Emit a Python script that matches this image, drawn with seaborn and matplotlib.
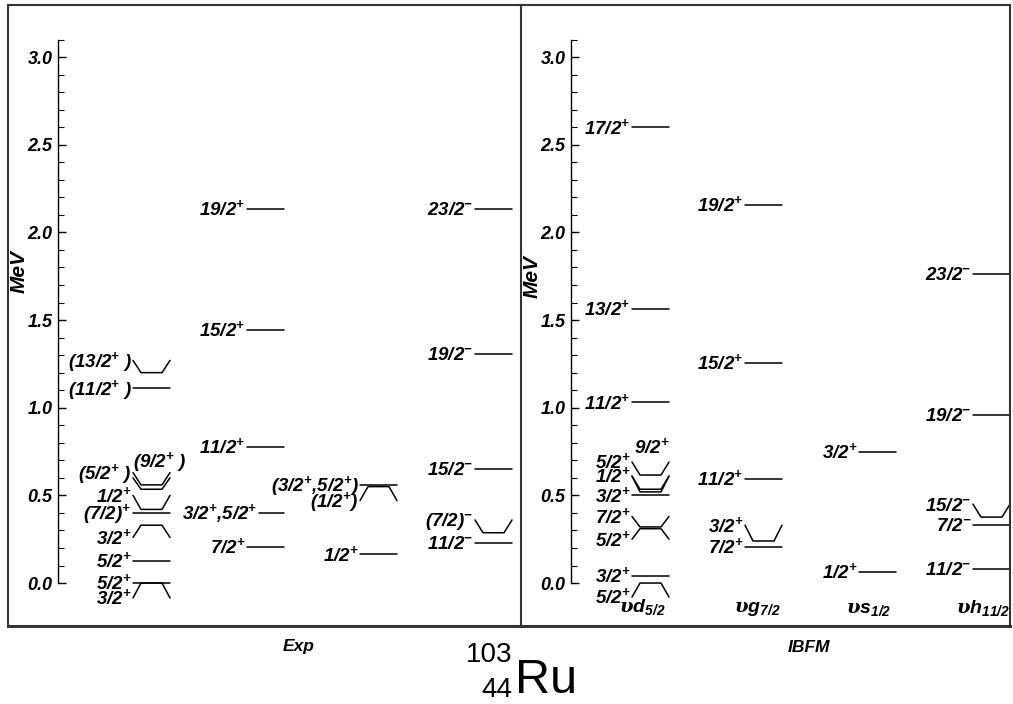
import numpy as np
import pandas as pd
import matplotlib
matplotlib.use("Agg")
import matplotlib.pyplot as plt
import seaborn as sns
from matplotlib.ticker import FixedLocator, FormatStrFormatter
from matplotlib.lines import Line2D

# ------------------------------------------------------------------ data
# Experimental levels (MeV); *_Elab = energy where the label / connector end sits
exp_c1_lab = ["3/2$^{+}$", "5/2$^{+}$", "5/2$^{+}$", "3/2$^{+}$", "(7/2)$^{+}$",
              "1/2$^{+}$", "(9/2$^{+}$ )", "(5/2$^{+}$ )", "(11/2$^{+}$ )", "(13/2$^{+}$ )"]
exp_c1_E = [0.0, 0.0, 0.127, 0.33, 0.40, 0.42, 0.535, 0.56, 1.11, 1.20]
exp_c1_Elab = [-0.085, 0.0, 0.127, 0.26, 0.40, 0.50, 0.60, 0.63, 1.11, 1.27]

exp_c2_lab = ["7/2$^{+}$", "3/2$^{+}$,5/2$^{+}$", "11/2$^{+}$", "15/2$^{+}$", "19/2$^{+}$"]
exp_c2_E = [0.207, 0.40, 0.776, 1.443, 2.133]
exp_c2_Elab = [0.207, 0.40, 0.776, 1.443, 2.133]

exp_c3_lab = ["1/2$^{+}$", "(1/2$^{+}$)", "(3/2$^{+}$,5/2$^{+}$)"]
exp_c3_E = [0.165, 0.55, 0.56]
exp_c3_Elab = [0.165, 0.47, 0.56]

exp_c4_lab = ["11/2$^{-}$", "(7/2)$^{-}$", "15/2$^{-}$", "19/2$^{-}$", "23/2$^{-}$"]
exp_c4_E = [0.228, 0.287, 0.65, 1.306, 2.133]
exp_c4_Elab = [0.228, 0.36, 0.65, 1.306, 2.133]

# IBFM levels
ibfm_c1_lab = ["5/2$^{+}$", "3/2$^{+}$", "5/2$^{+}$", "7/2$^{+}$", "3/2$^{+}$", "9/2$^{+}$",
               "1/2$^{+}$", "5/2$^{+}$", "11/2$^{+}$", "13/2$^{+}$", "17/2$^{+}$"]
ibfm_c1_E = [0.0, 0.04, 0.31, 0.32, 0.50, 0.52, 0.535, 0.616, 1.03, 1.563, 2.60]
ibfm_c1_Elab = [-0.08, 0.04, 0.25, 0.38, 0.50, 0.61, 0.61, 0.69, 1.03, 1.563, 2.60]

ibfm_c2_lab = ["7/2$^{+}$", "3/2$^{+}$", "11/2$^{+}$", "15/2$^{+}$", "19/2$^{+}$"]
ibfm_c2_E = [0.207, 0.24, 0.595, 1.255, 2.156]
ibfm_c2_Elab = [0.207, 0.33, 0.595, 1.255, 2.156]

ibfm_c3_lab = ["1/2$^{+}$", "3/2$^{+}$"]
ibfm_c3_E = [0.065, 0.75]
ibfm_c3_Elab = [0.065, 0.75]

ibfm_c4_lab = ["11/2$^{-}$", "7/2$^{-}$", "15/2$^{-}$", "19/2$^{-}$", "23/2$^{-}$"]
ibfm_c4_E = [0.08, 0.331, 0.376, 0.958, 1.763]
ibfm_c4_Elab = [0.08, 0.331, 0.45, 0.958, 1.763]

shell_labels = [r"$\upsilon\mathbf{d}_{\mathbf{5/2}}$", r"$\upsilon\mathbf{g}_{\mathbf{7/2}}$",
                r"$\upsilon\mathbf{s}_{\mathbf{1/2}}$", r"$\upsilon\mathbf{h}_{\mathbf{11/2}}$"]

major_ticks = [0.0, 0.5, 1.0, 1.5, 2.0, 2.5, 3.0]
minor_ticks = [round(0.1 * i, 1) for i in range(32)]
axis_top = 3.1

# ------------------------------------------------------------------ layout
W, H = 1013, 704
YLIM = (-0.245, 3.297)
LEVEL_W = 37      # px
DIAG = 8          # px

sns.set_theme(style="white")
plt.rcParams["font.family"] = ["Liberation Sans", "DejaVu Sans"]
plt.rcParams["font.style"] = "italic"
plt.rcParams["font.weight"] = "bold"
plt.rcParams["text.color"] = "black"
plt.rcParams["axes.labelcolor"] = "black"
plt.rcParams["mathtext.fontset"] = "custom"
plt.rcParams["mathtext.rm"] = "Liberation Sans:bold:italic"
plt.rcParams["mathtext.bf"] = "Liberation Sans:bold:italic"
plt.rcParams["mathtext.it"] = "DejaVu Serif"
plt.rcParams["mathtext.sf"] = "Liberation Sans:bold:italic"

fig = plt.figure(figsize=(W / 100, H / 100), dpi=100)

panels = {
    "exp": dict(box=(8, 521), spine_x=58,
                cols=[(133, exp_c1_lab, exp_c1_E, exp_c1_Elab),
                      (247, exp_c2_lab, exp_c2_E, exp_c2_Elab),
                      (360, exp_c3_lab, exp_c3_E, exp_c3_Elab),
                      (475, exp_c4_lab, exp_c4_E, exp_c4_Elab)],
                mev=(19, 272)),
    "ibfm": dict(box=(521, 1010), spine_x=571,
                 cols=[(632, ibfm_c1_lab, ibfm_c1_E, ibfm_c1_Elab),
                       (745, ibfm_c2_lab, ibfm_c2_E, ibfm_c2_Elab),
                       (859, ibfm_c3_lab, ibfm_c3_E, ibfm_c3_Elab),
                       (973, ibfm_c4_lab, ibfm_c4_E, ibfm_c4_Elab)],
                 mev=(532, 277)),
}
# label placement exceptions (layout only): (panel, col, idx) -> (x px, y MeV)
label_override = {("exp", 0, 6): (160, 0.70), ("ibfm", 0, 5): (652, 0.78)}
# level line start inset (layout only)
line_inset = {("exp", 1, 1): 12}
shell_pos = [(619, -0.165), (734, -0.165), (846, -0.17), (956, -0.17)]

LBL_FS = 13.5
frame_col = "#333333"

for pname, p in panels.items():
    x0b, x1b = p["box"]
    ax = fig.add_axes([x0b / W, 78 / H, (x1b - x0b) / W, 621 / H])
    ax.set_xlim(x0b, x1b)
    ax.set_ylim(*YLIM)
    ax.set_facecolor("none")

    rows = []
    seg = 0
    for ci, (cx, labs, Es, Elabs) in enumerate(p["cols"]):
        for li, (lab, E, El) in enumerate(zip(labs, Es, Elabs)):
            xs = cx + line_inset.get((pname, ci, li), 0)
            xe = cx + LEVEL_W
            if abs(El - E) < 1e-9:
                pts = [(xs, E), (xe, E)]
            else:
                pts = [(xs, El), (xs + DIAG, E), (xe - DIAG, E), (xe, El)]
            for (x, y) in pts:
                rows.append(dict(seg=f"{pname}{seg}", x=x, E=y))
            seg += 1
            key = (pname, ci, li)
            if key in label_override:
                lx, ly = label_override[key]
                ax.annotate(lab, xy=(lx, ly), xytext=(0, -4.6), textcoords="offset points",
                            ha="center", va="baseline", fontsize=LBL_FS, color="black",
                            annotation_clip=False)
            else:
                ax.annotate(lab, xy=(xs - 1.5, El), xytext=(0, -4.6), textcoords="offset points",
                            ha="right", va="baseline", fontsize=LBL_FS, color="black",
                            annotation_clip=False)
    df = pd.DataFrame(rows)
    sns.lineplot(data=df, x="x", y="E", units="seg", estimator=None, sort=False,
                 color="black", lw=1.1, legend=False, ax=ax)

    # axis styling
    ax.set_xlabel("")
    ax.set_ylabel("")
    ax.set_xticks([])
    for s in ("top", "right", "bottom"):
        ax.spines[s].set_visible(True)
        ax.spines[s].set_color(frame_col)
        ax.spines[s].set_linewidth(1.5)
    ax.spines["bottom"].set_linewidth(2.2)
    ax.spines["left"].set_position(("data", p["spine_x"]))
    ax.spines["left"].set_bounds(0, axis_top)
    ax.spines["left"].set_color("black")
    ax.spines["left"].set_linewidth(1.0)
    ax.yaxis.set_major_locator(FixedLocator(major_ticks))
    ax.yaxis.set_minor_locator(FixedLocator(minor_ticks))
    ax.yaxis.set_major_formatter(FormatStrFormatter("%.1f"))
    ax.tick_params(axis="y", which="major", direction="in", length=6, width=1,
                   labelsize=13, pad=4, colors="black", left=True)
    ax.tick_params(axis="y", which="minor", direction="in", length=4, width=0.8,
                   colors="black", left=True)
    if pname == "exp":
        ax.add_line(Line2D([0, 0], [0, 1], transform=ax.transAxes, color=frame_col,
                           lw=1.5, clip_on=False))
    mx, my = p["mev"]
    ax.text((mx - x0b) / (x1b - x0b), (626 - my) / 621, "MeV", rotation=90,
            transform=ax.transAxes, ha="center", va="center", fontsize=15)

    if pname == "ibfm":
        for lab, (sx, sy) in zip(shell_labels, shell_pos):
            ax.text(sx, sy, lab, ha="left", va="baseline", fontsize=14)

fig.text(299 / W, 1 - 647 / H, "Exp", ha="center", va="center", fontsize=12.5)
fig.text(809 / W, 1 - 647 / H, "IBFM", ha="center", va="center", fontsize=12.5)
fig.text(512 / W, 1 - 662 / H, "103", ha="right", va="baseline", fontsize=20,
         fontstyle="normal", fontweight="normal")
fig.text(512 / W, 1 - 697 / H, "44", ha="right", va="baseline", fontsize=20,
         fontstyle="normal", fontweight="normal")
fig.text(515 / W, 1 - 693 / H, "Ru", ha="left", va="baseline", fontsize=35,
         fontstyle="normal", fontweight="normal")

fig.savefig("out.png", dpi=100, facecolor="white")
